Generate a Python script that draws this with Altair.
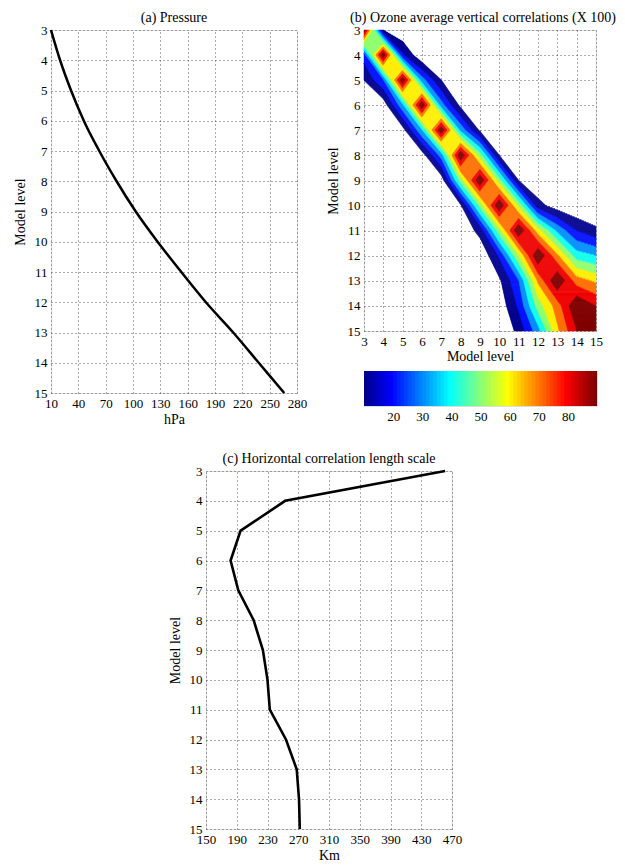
import altair as alt
import numpy as np
import pandas as pd

# ---------------- data ----------------
levels = [3, 4, 5, 6, 7, 8, 9, 10, 11, 12, 13, 14, 15]
pressure_hpa = [10, 20, 32, 46, 63, 82, 103, 127, 153, 180, 210, 238, 266]
length_scale_km = [461, 253, 195, 182, 192, 212, 224, 230, 233, 254, 268, 271, 272]

# ozone vertical correlations (x100); one list per model level (row = y), columns = levels 3..15 (x)
corr_l03 = [100, 10, 0, 0, 0, 0, 0, 0, 0, 0, 0, 0, 0]
corr_l04 = [25, 100, 22, 0, 0, 0, 0, 0, 0, 0, 0, 0, 0]
corr_l05 = [10, 30, 100, 35, 10, 0, 0, 0, 0, 0, 0, 0, 0]
corr_l06 = [0, 3, 38, 100, 35, 7, 0, 0, 0, 0, 0, 0, 0]
corr_l07 = [0, 0, 5, 40, 100, 38, 8, 0, 0, 0, 0, 0, 0]
corr_l08 = [0, 0, 0, 4, 35, 100, 55, 10, 0, 0, 0, 0, 0]
corr_l09 = [0, 0, 0, 0, 3, 55, 100, 55, 10, 0, 0, 0, 0]
corr_l10 = [0, 0, 0, 0, 0, 8, 55, 100, 58, 14, 4, 0, 0]
corr_l11 = [0, 0, 0, 0, 0, 0, 14, 57, 100, 65, 38, 20, 12]
corr_l12 = [0, 0, 0, 0, 0, 0, 0, 22, 60, 100, 72, 45, 40]
corr_l13 = [0, 0, 0, 0, 0, 0, 0, 8, 30, 72, 100, 75, 68]
corr_l14 = [0, 0, 0, 0, 0, 0, 0, 3, 22, 55, 75, 100, 90]
corr_l15 = [0, 0, 0, 0, 0, 0, 0, 0, 13, 36, 68, 90, 100]

contour_levels = [10, 20, 30, 40, 50, 60, 70, 80, 90]
pressure_ticks = [10, 40, 70, 100, 130, 160, 190, 220, 250, 280]
km_ticks = [150, 190, 230, 270, 310, 350, 390, 430, 470]
cbar_ticks = [20, 30, 40, 50, 60, 70, 80]
cbar_range = [10, 90]

FONT = "Liberation Serif"


# ---------------- jet colormap (MATLAB jet(64)) ----------------
def jet(m=64):
    n = int(np.ceil(m / 4))
    u = np.concatenate([np.arange(1, n + 1) / n, np.ones(n - 1), np.arange(n, 0, -1) / n])
    g = int(np.ceil(n / 2)) - (1 if m % 4 == 1 else 0) + np.arange(1, len(u) + 1)
    r = g + n
    b = g - n
    J = np.zeros((m, 3))
    for ch, idxs in enumerate((r, g, b)):
        for idx, val in zip(idxs, u):
            if 1 <= idx <= m:
                J[idx - 1, ch] = val
    return ["#%02x%02x%02x" % tuple(int(round(c * 255)) for c in row) for row in J]


JET = jet(64)
lo_c, hi_c = cbar_range
band_colors = [JET[min(63, int((L - lo_c) / (hi_c - lo_c) * 64))] for L in contour_levels]

# ---------------- filled contour geometry (marching squares, drawn as horizontal runs) ----------------
M = np.array([corr_l03, corr_l04, corr_l05, corr_l06, corr_l07, corr_l08, corr_l09,
              corr_l10, corr_l11, corr_l12, corr_l13, corr_l14, corr_l15], float)

CORNERS = [(0.0, 0.0), (1.0, 0.0), (1.0, 1.0), (0.0, 1.0)]


def above_polys(fv, L):
    """Convex polygons (cell coords) of the part of a cell where value >= L."""
    up = [f >= L for f in fv]
    if not any(up):
        return []
    if all(up):
        return [CORNERS]
    cr = {}
    for k in range(4):
        k2 = (k + 1) % 4
        if up[k] != up[k2]:
            t = (L - fv[k]) / (fv[k2] - fv[k])
            (xa, ya), (xb, yb) = CORNERS[k], CORNERS[k2]
            cr[k] = (xa + t * (xb - xa), ya + t * (yb - ya))
    saddle = up[0] == up[2] and up[1] == up[3] and up[0] != up[1]
    if saddle and sum(fv) / 4.0 < L:
        polys = []
        for k in range(4):
            if up[k]:
                polys.append([CORNERS[k], cr[k], cr[(k - 1) % 4]])
        return polys
    poly = []
    for k in range(4):
        if up[k]:
            poly.append(CORNERS[k])
        if k in cr:
            poly.append(cr[k])
    return [poly]


def hspan(poly, v):
    xs = []
    n = len(poly)
    for k in range(n):
        (x1, y1), (x2, y2) = poly[k], poly[(k + 1) % n]
        if (y1 - v) * (y2 - v) <= 0 and y1 != y2:
            xs.append(x1 + (v - y1) / (y2 - y1) * (x2 - x1))
    if len(xs) < 2:
        return None
    return min(xs), max(xs)


dy = 0.04
nrows = int(round(12 / dy))
recs = []
for k in range(nrows):
    y0 = 3 + k * dy
    y1 = y0 + dy
    yc = 0.5 * (y0 + y1)
    i = min(int(yc - 3), 11)
    v = (yc - 3) - i
    spans = {L: [] for L in contour_levels}
    bps = set(float(x) for x in levels)
    for j in range(12):
        fv = (M[i, j], M[i, j + 1], M[i + 1, j + 1], M[i + 1, j])
        for L in contour_levels:
            for poly in above_polys(fv, L):
                s = hspan(poly, v)
                if s is not None and s[1] > s[0]:
                    a_, b_ = 3 + j + s[0], 3 + j + s[1]
                    spans[L].append((a_, b_))
                    bps.add(a_)
                    bps.add(b_)
    bps = sorted(bps)
    segs = []
    for xa, xb in zip(bps[:-1], bps[1:]):
        if xb - xa < 1e-9:
            continue
        m = 0.5 * (xa + xb)
        cnt = sum(1 for L in contour_levels if any(p <= m <= q for p, q in spans[L]))
        bnd = contour_levels[cnt - 1] if cnt > 0 else None
        if segs and segs[-1][2] == bnd:
            segs[-1][1] = xb
        else:
            segs.append([xa, xb, bnd])
    for p, q, bnd in segs:
        if bnd is not None:
            recs.append({"x0": p, "x1": q, "y0": y0, "y1": y1, "level": bnd})
df_c = pd.DataFrame(recs)

df_p = pd.DataFrame({"level": levels, "hPa": pressure_hpa})
df_k = pd.DataFrame({"level": levels, "km": length_scale_km})
step = (hi_c - lo_c) / 64
df_cb = pd.DataFrame({"lo": [lo_c + i * step for i in range(64)],
                      "hi": [min(hi_c, lo_c + (i + 1.35) * step) for i in range(64)],
                      "mid": [lo_c + (i + 0.5) * step for i in range(64)]})


# ---------------- helpers ----------------
def ax(values, title, grid=True, title_pad=4, title_y=None):
    kw = dict(values=values, grid=grid, gridColor="#444444", gridDash=[1, 3], gridWidth=0.9,
              ticks=False, domain=False, labelFont=FONT, labelFontSize=13, labelColor="black",
              labelPadding=4, labelFlush=False, labelOverlap=False, titleFont=FONT,
              titleFontSize=14, titleFontWeight="normal", titleColor="black",
              titlePadding=title_pad, title=title)
    if title_y is not None:
        kw["titleY"] = title_y
        kw["titleBaseline"] = "top"
    return alt.Axis(**kw)


def ttl(text, dx=0):
    return alt.TitleParams(text, font=FONT, fontSize=14, fontWeight="normal", color="black",
                           anchor="middle", frame="group", offset=-1, dx=dx)


yscale = alt.Scale(domain=[3, 15], reverse=True, nice=False, zero=False)

a = alt.Chart(df_p, title=ttl("(a) Pressure")).mark_line(
    color="black", strokeWidth=2.5, interpolate="monotone").encode(
    x=alt.X("hPa:Q", scale=alt.Scale(domain=[10, 280], nice=False, zero=False),
            axis=ax(pressure_ticks, "hPa", title_y=19)),
    y=alt.Y("level:Q", scale=yscale, axis=ax(levels, "Model level", title_pad=7)),
    order="level:Q",
).properties(width=246, height=363)

thr = alt.Scale(type="threshold", domain=contour_levels[1:], range=band_colors)
b = alt.Chart(df_c, title=ttl("(b) Ozone average vertical correlations (X 100)", dx=3)).mark_rect(
    strokeWidth=0.5).encode(
    x=alt.X("x0:Q", scale=alt.Scale(domain=[3, 15], nice=False, zero=False),
            axis=ax(levels, "Model level", title_y=18)),
    x2="x1:Q",
    y=alt.Y("y0:Q", scale=yscale, axis=ax(levels, "Model level", title_pad=7)),
    y2="y1:Q",
    color=alt.Color("level:Q", scale=thr, legend=None),
    stroke=alt.Stroke("level:Q", scale=thr, legend=None),
).properties(width=232, height=301)

qz = alt.Scale(type="quantize", domain=cbar_range, range=JET, nice=False)
cb = alt.Chart(df_cb).mark_rect().encode(
    x=alt.X("lo:Q", scale=alt.Scale(domain=cbar_range, nice=False, zero=False),
            axis=ax(cbar_ticks, None, grid=False)),
    x2="hi:Q",
    y=alt.value(0),
    y2=alt.value(35),
    fill=alt.Fill("mid:Q", scale=qz, legend=None),
).properties(width=233, height=35)

c = alt.Chart(df_k, title=ttl("(c) Horizontal correlation length scale")).mark_line(
    color="black", strokeWidth=2.6).encode(
    x=alt.X("km:Q", scale=alt.Scale(domain=[150, 470], nice=False, zero=False),
            axis=ax(km_ticks, "Km", title_y=19)),
    y=alt.Y("level:Q", scale=yscale, axis=ax(levels, "Model level", title_pad=7)),
    order="level:Q",
).properties(width=246, height=358)

spacer = alt.Chart(pd.DataFrame({"v": [0]})).mark_point(opacity=0).encode(
    x=alt.X("v:Q", axis=None), y=alt.Y("v:Q", axis=None)
).properties(width=116, height=10, view=alt.ViewBackground(strokeOpacity=0))

right = alt.vconcat(b, cb, spacing=6).resolve_scale(color="independent", stroke="independent",
                                                      fill="independent")
top = alt.hconcat(a, right, spacing=17)
bottom = alt.hconcat(spacer, c, spacing=0)
chart = alt.vconcat(top, bottom, spacing=24).properties(
    padding={"left": 4, "top": 2, "right": 0, "bottom": 0}
).configure_view(stroke="black", strokeWidth=1.4).configure(background="white")

chart.save("out.html", embed_options={"renderer": "svg", "actions": False})
